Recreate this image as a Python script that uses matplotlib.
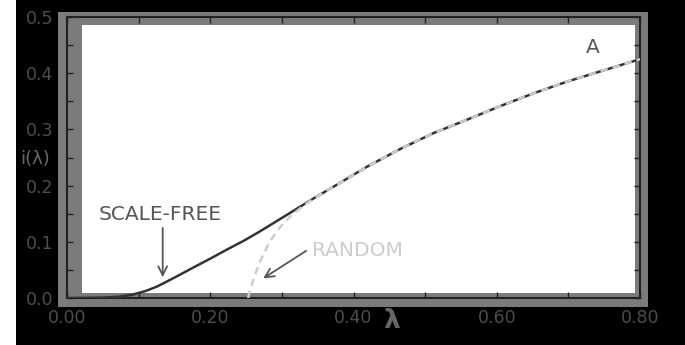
import matplotlib
matplotlib.use("Agg")
import matplotlib.pyplot as plt
from matplotlib.patches import Rectangle

# Giant-component size i(lambda) for the two network types
sf_lam = [0.0, 0.03, 0.05, 0.07, 0.09, 0.11, 0.125, 0.139, 0.157, 0.176, 0.2,
          0.223, 0.247, 0.27, 0.293, 0.316, 0.344, 0.372, 0.418, 0.465, 0.511,
          0.558, 0.604, 0.651, 0.698, 0.744, 0.8]
sf_i = [0.0, 0.0003, 0.0008, 0.002, 0.0055, 0.0125, 0.02, 0.029, 0.041, 0.054, 0.07,
        0.086, 0.102, 0.119, 0.137, 0.155, 0.177, 0.198, 0.233, 0.265, 0.293,
        0.317, 0.341, 0.364, 0.385, 0.403, 0.425]

rnd_lam = [0.253, 0.2545, 0.257, 0.26, 0.265, 0.27, 0.277, 0.283, 0.292, 0.302,
           0.315, 0.33, 0.344, 0.372, 0.418, 0.465, 0.511, 0.558, 0.604, 0.651,
           0.698, 0.744, 0.8]
rnd_i = [0.0, 0.01, 0.02, 0.032, 0.05, 0.066, 0.085, 0.1, 0.117, 0.133,
         0.149, 0.164, 0.177, 0.198, 0.233, 0.265, 0.293, 0.317, 0.341, 0.364,
         0.385, 0.403, 0.425]

x_ticks = [0.0, 0.2, 0.4, 0.6, 0.8]
x_tick_labels = ["0.00", "0.20", "0.40", "0.60", "0.80"]
y_ticks = [0.0, 0.1, 0.2, 0.3, 0.4, 0.5]
y_tick_labels = ["0.0", "0.1", "0.2", "0.3", "0.4", "0.5"]

W, H = 685, 345
narrow = ["Liberation Sans Narrow", "DejaVu Sans"]

fig = plt.figure(figsize=(W / 100, H / 100), dpi=100, facecolor="black")

# light strip on the far left, then the grey frame behind the axes
fig.patches.append(Rectangle((0, 0), 16 / W, 1, transform=fig.transFigure,
                             facecolor="white", edgecolor="none", zorder=-2))
fig.patches.append(Rectangle((58 / W, (H - 307) / H), 590 / W, 295 / H,
                             transform=fig.transFigure, facecolor="#7b7b7b",
                             edgecolor="none", zorder=-2))

ax = fig.add_axes([67 / W, (H - 298) / H, 573 / W, 281 / H])
ax.set_zorder(1)
ax.set_facecolor("#7b7b7b")
ax.add_patch(Rectangle((15 / 573, 5 / 281), 553 / 573, 268 / 281,
                       transform=ax.transAxes, facecolor="white",
                       edgecolor="none", zorder=0))

ax.plot(sf_lam, sf_i, color="#333333", lw=1.8, zorder=3)
ax.plot(rnd_lam, rnd_i, color="#cccccc", lw=1.8, dashes=(3, 2), zorder=4)

ax.set_xlim(0, 0.8)
ax.set_ylim(0, 0.5)
ax.set_xticks(x_ticks)
ax.set_xticklabels(x_tick_labels)
ax.set_yticks(y_ticks)
ax.set_yticklabels(y_tick_labels)
ax.set_xticks([0.1, 0.3, 0.5, 0.7], minor=True)
ax.set_yticks([0.05, 0.15, 0.25, 0.35, 0.45], minor=True)
ax.tick_params(which="both", direction="in", top=True, right=True,
               length=4.5, width=1, color="#222222")
ax.tick_params(axis="x", pad=8, labelcolor="#4d4d4d", labelsize=12.5)
ax.tick_params(axis="y", pad=10, labelcolor="#4d4d4d", labelsize=12.5)
for lbl in ax.get_xticklabels() + ax.get_yticklabels():
    lbl.set_family(narrow)
for sp in ax.spines.values():
    sp.set_color("#222222")
    sp.set_linewidth(1.5)

ax.set_xlabel("λ", color="#666666", fontsize=19, fontweight="bold", va="center")
ax.xaxis.set_label_coords(0.567, -0.082)
ax.set_ylabel("i(λ)", color="#6a6a6a", fontsize=13, rotation=0,
              ha="center", va="center")
ax.yaxis.set_label_coords(-0.056, 0.495)

ax.text(0.13, 0.1477, "SCALE-FREE", color="#555555", fontsize=14.5,
        ha="center", va="center")
ax.annotate("", xy=(0.1336, 0.037), xytext=(0.1336, 0.1246),
            arrowprops=dict(arrowstyle="->", color="#555555", lw=1.3,
                            mutation_scale=16, shrinkA=0, shrinkB=0))
ax.text(0.342, 0.085, "RANDOM", color="#cccccc", fontsize=14.5,
        ha="left", va="center")
ax.annotate("", xy=(0.274, 0.035), xytext=(0.334, 0.084),
            arrowprops=dict(arrowstyle="->", color="#555555", lw=1.3,
                            mutation_scale=16, shrinkA=0, shrinkB=0))
ax.text(0.734, 0.4466, "A", color="#555555", fontsize=14.5,
        ha="center", va="center")

fig.savefig("out.png", dpi=100, facecolor="black")
